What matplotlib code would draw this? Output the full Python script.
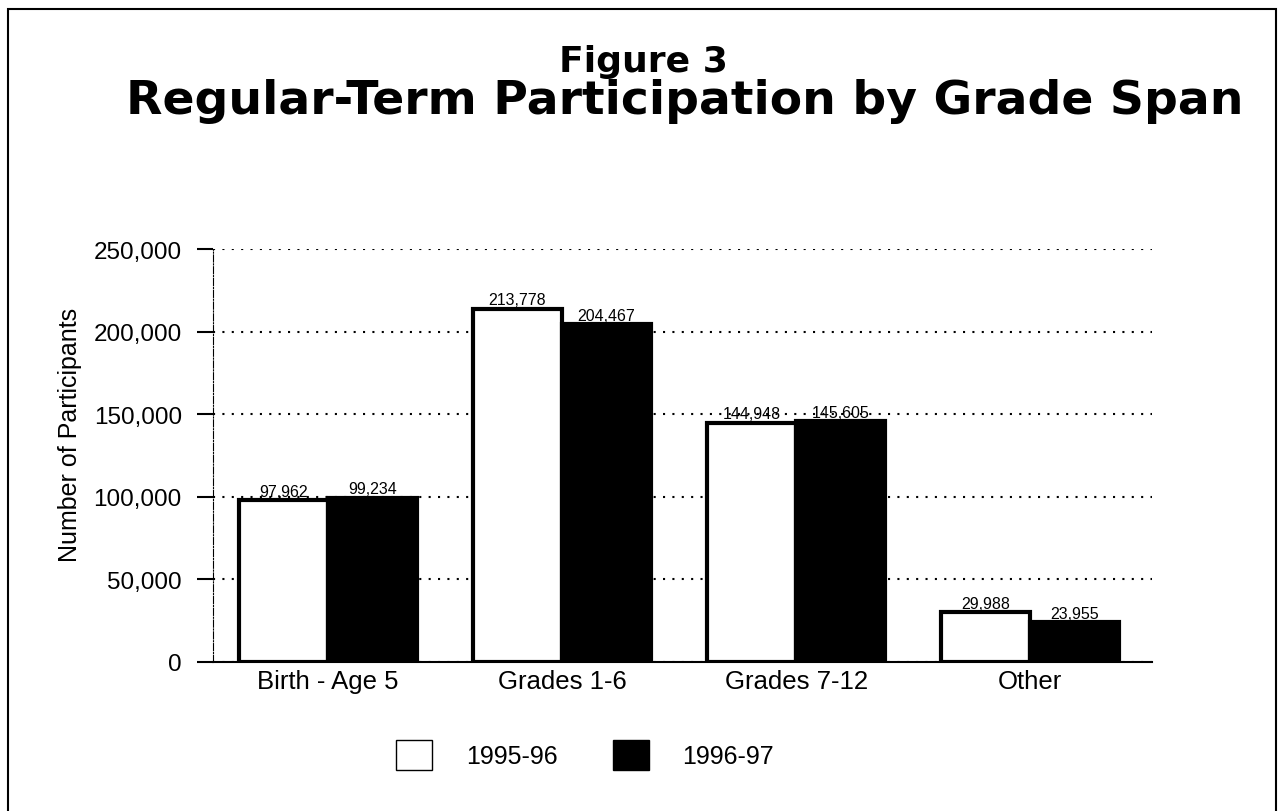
import matplotlib.pyplot as plt
import matplotlib.patches as mpatches
import numpy as np

categorias = ["Birth - Age 5", "Grades 1-6", "Grades 7-12", "Other"]
valores_9596 = [97962, 213778, 144948, 29988]
valores_9697 = [99234, 204467, 145605, 23955]
series = ["1995-96", "1996-97"]

plt.rcParams['font.family'] = ['Liberation Sans', 'DejaVu Sans']

fig = plt.figure(figsize=(12.85, 8.12), dpi=100)

# moldura externa
fig.add_artist(mpatches.Rectangle((8 / 1285, -0.01), 1268 / 1285, 1 - 10 / 812 + 0.01,
                                  transform=fig.transFigure, fill=False,
                                  edgecolor='black', linewidth=1.5))

fig.text(643 / 1285, 1 - 62 / 812, "Figure 3", ha='center', va='center',
         fontsize=26, fontweight='bold', family='DejaVu Sans')
fig.text(685 / 1285, 1 - 102 / 812, "Regular-Term Participation by Grade Span", ha='center',
         va='center', fontsize=34, fontweight='bold', family='DejaVu Sans')

ax = fig.add_axes([213 / 1285, 1 - 663 / 812, (1152 - 213) / 1285, (663 - 250) / 812])

x = np.arange(len(categorias))
largura = 0.38

b1 = ax.bar(x - largura / 2, valores_9596, largura, color='white', edgecolor='black',
            linewidth=3, label=series[0], zorder=3)
b2 = ax.bar(x + largura / 2, valores_9697, largura, color='black', edgecolor='black',
            linewidth=3, label=series[1], zorder=3)

for barras, vals in ((b1, valores_9596), (b2, valores_9697)):
    for r, v in zip(barras, vals):
        ax.text(r.get_x() + r.get_width() / 2, v + 1000, f"{v:,}", ha='center',
                va='bottom', fontsize=11.5, zorder=4)

ax.set_xlim(-0.49, 3.52)
ax.set_ylim(0, 250000)
ax.set_yticks(range(0, 250001, 50000))
ax.set_yticklabels([f"{v:,}" for v in range(0, 250001, 50000)], fontsize=17.5)
ax.set_xticks(x)
ax.set_xticklabels(categorias, fontsize=18.5)
ax.tick_params(axis='x', length=0, pad=5)
ax.tick_params(axis='y', length=11.5, width=1.5, pad=11)

ax.grid(axis='y', linestyle=(0, (1, 3.5)), color='black', linewidth=1.5, zorder=0)
for lado in ('top', 'right'):
    ax.spines[lado].set_visible(False)
ax.spines['left'].set_linestyle('-.')
ax.spines['left'].set_linewidth(0.8)
ax.spines['bottom'].set_linewidth(1.5)

ax.set_ylabel("Number of Participants", fontsize=18)
ax.yaxis.set_label_coords(-0.1395, 0.552)

# legenda com quadrados de borda fina
h1 = mpatches.Patch(facecolor='white', edgecolor='black', linewidth=1)
h2 = mpatches.Patch(facecolor='black', edgecolor='black', linewidth=1)
fig.legend(handles=[h1, h2], labels=series, loc='center', ncol=2,
           bbox_to_anchor=(585 / 1285, 1 - 756 / 812), frameon=False, fontsize=18,
           handlelength=1.44, handleheight=1.5, handletextpad=1.36, columnspacing=2.2)

fig.savefig("out.png", dpi=100)
plt.close(fig)
